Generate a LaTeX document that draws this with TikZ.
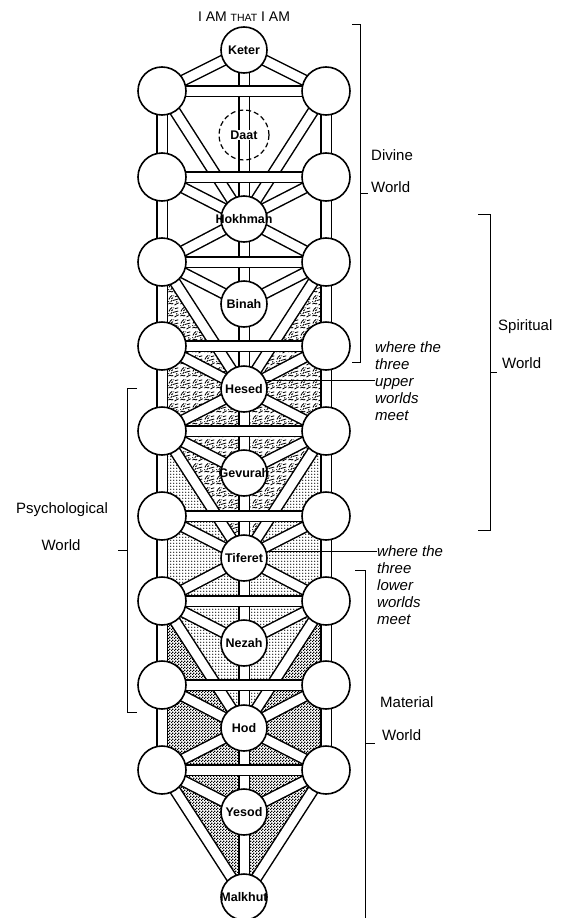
\documentclass[tikz,border=0pt]{standalone}
\usepackage{fontspec}
\setmainfont{Liberation Sans}
\usetikzlibrary{patterns,backgrounds}

\pgfdeclarepatternformonly{matchecks}{\pgfqpoint{0pt}{0pt}}{\pgfqpoint{3pt}{3pt}}{\pgfqpoint{3pt}{3pt}}{%
  \pgfpathrectangle{\pgfqpoint{0pt}{0pt}}{\pgfqpoint{1.5pt}{1.5pt}}%
  \pgfpathrectangle{\pgfqpoint{1.5pt}{1.5pt}}{\pgfqpoint{1.5pt}{1.5pt}}%
  \pgfusepath{fill}}

\pgfdeclarepatternformonly{psydots}{\pgfqpoint{-1pt}{-1pt}}{\pgfqpoint{2pt}{2pt}}{\pgfqpoint{3pt}{3pt}}{%
  \pgfpathcircle{\pgfqpoint{0pt}{0pt}}{0.7pt}%
  \pgfusepath{fill}}

\pgfdeclarepatternformonly{mottle}{\pgfqpoint{0pt}{0pt}}{\pgfqpoint{12pt}{12pt}}{\pgfqpoint{12pt}{12pt}}{%
  \pgfsetlinewidth{0.9pt}%
  \pgfpathmoveto{\pgfqpoint{0.5pt}{2pt}}\pgfpathcurveto{\pgfqpoint{2pt}{5pt}}{\pgfqpoint{4pt}{0.5pt}}{\pgfqpoint{5.5pt}{3pt}}%
  \pgfpathmoveto{\pgfqpoint{7pt}{1pt}}\pgfpathcurveto{\pgfqpoint{8pt}{3.5pt}}{\pgfqpoint{10pt}{1pt}}{\pgfqpoint{11.5pt}{3.5pt}}%
  \pgfpathmoveto{\pgfqpoint{1pt}{7pt}}\pgfpathcurveto{\pgfqpoint{3pt}{9pt}}{\pgfqpoint{1.5pt}{10.5pt}}{\pgfqpoint{4.5pt}{11.5pt}}%
  \pgfpathmoveto{\pgfqpoint{5.5pt}{6pt}}\pgfpathcurveto{\pgfqpoint{7pt}{8.5pt}}{\pgfqpoint{9pt}{5pt}}{\pgfqpoint{11pt}{7.5pt}}%
  \pgfpathmoveto{\pgfqpoint{7.5pt}{10pt}}\pgfpathcurveto{\pgfqpoint{8.5pt}{11.5pt}}{\pgfqpoint{10pt}{9.5pt}}{\pgfqpoint{11pt}{11pt}}%
  \pgfpathmoveto{\pgfqpoint{3pt}{4.5pt}}\pgfpathlineto{\pgfqpoint{4.5pt}{6.5pt}}%
  \pgfusepath{stroke}%
  \pgfpathellipse{\pgfqpoint{4.5pt}{8.5pt}}{\pgfqpoint{1.2pt}{0.3pt}}{\pgfqpoint{0.2pt}{0.9pt}}%
  \pgfpathcircle{\pgfqpoint{9.5pt}{4.5pt}}{0.8pt}%
  \pgfpathcircle{\pgfqpoint{0.8pt}{4.8pt}}{0.6pt}%
  \pgfpathcircle{\pgfqpoint{6.2pt}{11pt}}{0.6pt}%
  \pgfusepath{fill}}

\begin{document}
\begin{tikzpicture}[
  x=1pt, y=-1pt,
  sefname/.style={font=\fontsize{12.5}{14}\selectfont\bfseries, inner sep=0pt},
  sefira/.style={circle, draw, line width=1.6pt, fill=white, minimum size=46pt, inner sep=0pt, label={[sefname]center:#1}},
  sidering/.style={circle, draw, line width=1.6pt, fill=white, minimum size=48pt, inner sep=0pt},
  daatring/.style={circle, draw, line width=1.2pt, dash pattern=on 5pt off 3pt, minimum size=50pt, inner sep=0pt},
  channel/.style={draw, line width=1.5pt, double=white, double distance=9pt, line join=round},
  worldfill/.style={fill=white, postaction={pattern=#1}},
  worldname/.style={font=\fontsize{15}{17}\selectfont, inner sep=0pt},
  notetext/.style={font=\fontsize{15}{17}\selectfont\itshape, align=left, inner sep=0pt},
  bracket/.style={line width=1pt}
]
\useasboundingbox (0,0) rectangle (572,918);

\node[font=\fontsize{14}{16}\selectfont] (title) at (244,17) {I AM {\fontsize{10.5}{12}\selectfont THAT} I AM};

\node[sefira=Keter] (keter) at (244,50) {};
\node[daatring] (daat) at (244,135) {};
\node[sefname, fill=white, inner sep=1pt] (daatname) at (daat) {Daat};
\node[sefira=Hokhmah] (hokhmah) at (244,219) {};
\node[sefira=Binah] (binah) at (244,304) {};
\node[sefira=Hesed] (hesed) at (244,389) {};
\node[sefira=Gevurah] (gevurah) at (244,473) {};
\node[sefira=Tiferet] (tiferet) at (244,558) {};
\node[sefira=Nezah] (nezah) at (244,643) {};
\node[sefira=Hod] (hod) at (244,728) {};
\node[sefira=Yesod] (yesod) at (244,812) {};
\node[sefira=Malkhut] (malkhut) at (244,897) {};

\foreach \i/\y in {1/91, 2/177, 3/262, 4/346, 5/431, 6/516, 7/601, 8/685, 9/770} {
  \node[sidering] (l\i) at (162,\y) {};
  \node[sidering] (r\i) at (326,\y) {};
}

\begin{pgfonlayer}{background}
\path[worldfill=matchecks] (tiferet.center) -- (r7.center) -- (r9.center) -- (malkhut.center) -- (l9.center) -- (l7.center) -- cycle;
\path[worldfill=psydots] (hesed.center) -- (r5.center) -- (r7.center) -- (hod.center) -- (l7.center) -- (l5.center) -- cycle;
\path[worldfill=mottle] (hokhmah.center) -- (r3.center) -- (r5.center) -- (tiferet.center) -- (l5.center) -- (l3.center) -- cycle;
\path[fill=white] (keter.center) -- (r1.center) -- (r3.center) -- (hesed.center) -- (l3.center) -- (l1.center) -- cycle;

\draw[channel] (keter.center) -- (malkhut.center);
\draw[channel] (l1.center) -- (l9.center);
\draw[channel] (r1.center) -- (r9.center);
\foreach \s/\c in {1/keter, 2/hokhmah, 3/hokhmah, 3/binah, 4/hesed, 5/hesed, 5/gevurah, 6/tiferet,
                   7/tiferet, 7/nezah, 8/hod, 9/hod, 9/yesod, 1/hokhmah, 3/hesed, 5/tiferet, 7/hod, 9/malkhut}
  \draw[channel] (l\s.center) -- (\c.center) -- (r\s.center);
\foreach \s in {1,...,9}
  \draw[channel] (l\s.center) -- (r\s.center);
\end{pgfonlayer}

\node[notetext, anchor=west] (uppernote) at (375,381) {where the\\three\\upper\\worlds\\meet};
\node[notetext, anchor=north west] (lowernote) at (377,545) {where the\\three\\lower\\worlds\\meet};
\draw[bracket] (hesed.20) -- (hesed.20 -| uppernote.west);
\draw[bracket] (tiferet.15) -- (tiferet.15 -| lowernote.west);

\node[worldname, anchor=west] (divine) at (371,155) {Divine};
\node[worldname, anchor=west] (divworld) at (371,187) {World};
\draw[bracket] (352,24) -- (360,24) -- (360,362) -- (352,362);
\draw[bracket] (360,193) -- (368,193);

\node[worldname, anchor=west] (spiritual) at (498,327) {Spiritual};
\node[worldname, anchor=west] (spiworld) at (502,363) {World};
\draw[bracket] (478,214) -- (490,214) -- (490,530) -- (478,530);
\draw[bracket] (490,372) -- (497,372);

\node[worldname] (psychological) at (62,510) {Psychological};
\node[worldname] (psyworld) at (61,545) {World};
\draw[bracket] (137,388) -- (127,388) -- (127,712) -- (137,712);
\draw[bracket] (127,550) -- (118,550);

\node[worldname, anchor=west] (material) at (380,702) {Material};
\node[worldname, anchor=west] (matworld) at (382,735) {World};
\draw[bracket] (355,570) -- (365,570) -- (365,918);
\draw[bracket] (365,743) -- (375,743);
\end{tikzpicture}
\end{document}
